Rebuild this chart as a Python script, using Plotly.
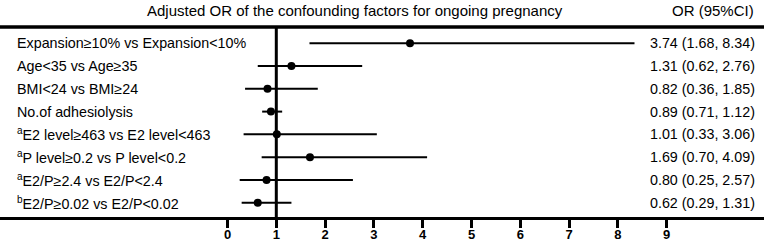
import plotly.graph_objects as go

labels = ["Expansion≥10% vs Expansion<10%", "Age<35 vs Age≥35", "BMI<24 vs BMI≥24",
          "No.of adhesiolysis", "<sup>a</sup>E2 level≥463 vs E2 level<463",
          "<sup>a</sup>P level≥0.2 vs P level<0.2", "<sup>a</sup>E2/P≥2.4 vs E2/P<2.4",
          "<sup>b</sup>E2/P≥0.02 vs E2/P<0.02"]
orv = [3.74, 1.31, 0.82, 0.89, 1.01, 1.69, 0.80, 0.62]
lo = [1.68, 0.62, 0.36, 0.71, 0.33, 0.70, 0.25, 0.29]
hi = [8.34, 2.76, 1.85, 1.12, 3.06, 4.09, 2.57, 1.31]
tickvals = [0, 1, 2, 3, 4, 5, 6, 7, 8, 9]
title = "Adjusted OR of the confounding factors for ongoing pregnancy"
col_title = "OR (95%CI)"

W, H = 764, 243
rows = list(range(1, len(labels) + 1))
font = "Liberation Sans, Arial, sans-serif"

fig = go.Figure()
for i, r in enumerate(rows):
    fig.add_trace(go.Scatter(x=[lo[i], hi[i]], y=[r, r], mode="lines",
                             line=dict(color="black", width=2), showlegend=False, hoverinfo="skip"))
fig.add_trace(go.Scatter(x=orv, y=rows, mode="markers",
                         marker=dict(color="black", size=8), showlegend=False))

# reference line at OR = 1
fig.add_shape(type="line", xref="x", yref="paper", x0=1, x1=1, y0=0, y1=1,
              line=dict(color="black", width=3))
# top rule
fig.add_shape(type="line", xref="paper", yref="paper", x0=0, x1=1, y0=1, y1=1,
              line=dict(color="black", width=3.5))

for i, r in enumerate(rows):
    fig.add_annotation(x=15 / W, xref="paper", y=r, yref="y", text=labels[i],
                       showarrow=False, xanchor="left", yanchor="middle",
                       font=dict(family=font, size=14.3, color="black"))
    fig.add_annotation(x=757 / W, xref="paper", y=r, yref="y",
                       text=f"{orv[i]:.2f} ({lo[i]:.2f}, {hi[i]:.2f})",
                       showarrow=False, xanchor="right", yanchor="middle",
                       font=dict(family=font, size=14.3, color="black"))

fig.add_annotation(x=355 / W, xref="paper", y=1, yref="paper", yshift=17, text=title,
                   showarrow=False, xanchor="center", yanchor="middle",
                   font=dict(family=font, size=15, color="black"))
fig.add_annotation(x=756 / W, xref="paper", y=1, yref="paper", yshift=17, text=col_title,
                   showarrow=False, xanchor="right", yanchor="middle",
                   font=dict(family=font, size=15, color="black"))

px_per = 48.8
x0px = 227.5
fig.update_xaxes(range=[-x0px / px_per, (W - x0px) / px_per], showgrid=False, zeroline=False,
                 showline=True, linecolor="black", linewidth=3,
                 ticks="outside", ticklen=8, tickwidth=3, tickcolor="black",
                 tickvals=tickvals, ticktext=[f"<b>{v}</b>" for v in tickvals],
                 ticklabelstandoff=-5,
                 tickfont=dict(family=font, size=13, color="black"))
fig.update_yaxes(range=[8.63, 0.284], showgrid=False, zeroline=False, showticklabels=False,
                 showline=False)
fig.update_layout(width=W, height=H, margin=dict(l=0, r=0, t=27, b=26),
                  plot_bgcolor="white", paper_bgcolor="white")
fig.write_html("out.html", config={"displayModeBar": False},
               post_script="document.body.style.margin='0';")
